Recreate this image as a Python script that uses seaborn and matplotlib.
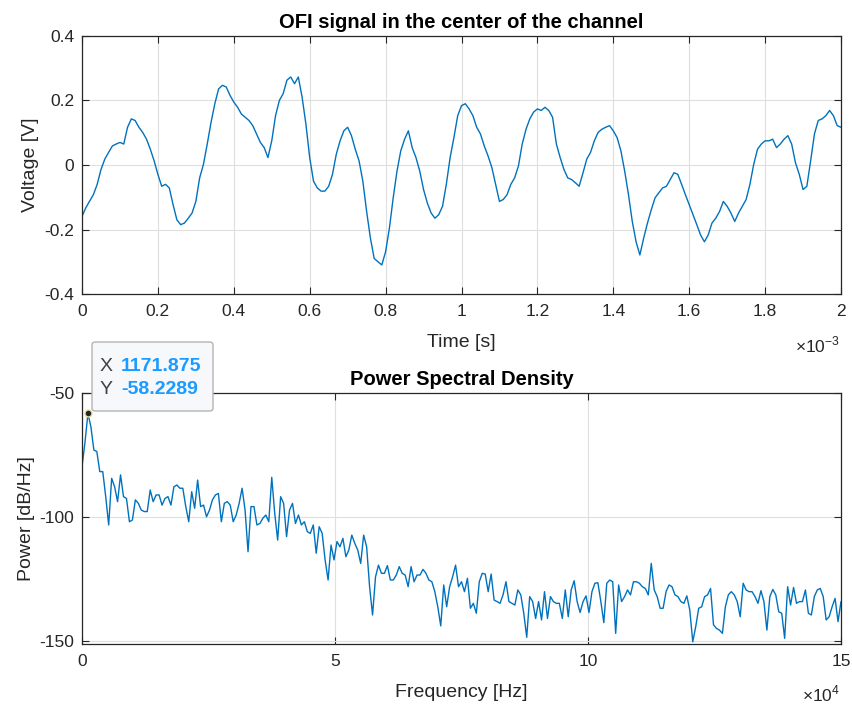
import numpy as np
import pandas as pd
import matplotlib
matplotlib.use("Agg")
import matplotlib.pyplot as plt
from matplotlib.ticker import FuncFormatter, FixedLocator
from matplotlib.patches import FancyBboxPatch
import seaborn as sns

# ---------------- data ----------------
# time signal: samples every 0.01 ms from 0 to 2 ms
time_ms = [i * 0.01 for i in range(201)]
voltage = [
    -0.159, -0.133, -0.112, -0.092, -0.060, -0.014, 0.018, 0.039, 0.059, 0.065,
    0.070, 0.065, 0.117, 0.143, 0.138, 0.117, 0.101, 0.080, 0.049, 0.013,
    -0.029, -0.066, -0.060, -0.071, -0.123, -0.170, -0.185, -0.180, -0.165, -0.149,
    -0.113, -0.040, 0.002, 0.065, 0.132, 0.190, 0.236, 0.247, 0.242, 0.216,
    0.195, 0.179, 0.158, 0.148, 0.138, 0.122, 0.096, 0.070, 0.054, 0.023,
    0.075, 0.153, 0.200, 0.221, 0.263, 0.273, 0.252, 0.273, 0.210, 0.127,
    0.023, -0.050, -0.071, -0.081, -0.081, -0.066, -0.029, 0.033, 0.075, 0.106,
    0.117, 0.091, 0.049, 0.013, -0.050, -0.144, -0.227, -0.290, -0.300, -0.310,
    -0.269, -0.196, -0.102, -0.019, 0.044, 0.080, 0.106, 0.054, 0.023, -0.019,
    -0.076, -0.118, -0.149, -0.165, -0.154, -0.128, -0.060, 0.023, 0.085, 0.153,
    0.184, 0.190, 0.174, 0.153, 0.117, 0.096, 0.059, 0.028, -0.008, -0.060,
    -0.113, -0.107, -0.092, -0.060, -0.040, -0.003, 0.065, 0.111, 0.143, 0.164,
    0.174, 0.169, 0.179, 0.169, 0.148, 0.065, 0.023, -0.014, -0.040, -0.045,
    -0.055, -0.066, -0.025, 0.018, 0.039, 0.075, 0.101, 0.111, 0.117, 0.122,
    0.106, 0.085, 0.044, -0.019, -0.092, -0.175, -0.238, -0.279, -0.227, -0.180,
    -0.139, -0.102, -0.086, -0.071, -0.066, -0.045, -0.024, -0.029, -0.060, -0.092,
    -0.123, -0.154, -0.185, -0.217, -0.238, -0.217, -0.180, -0.165, -0.144, -0.113,
    -0.128, -0.149, -0.175, -0.149, -0.128, -0.107, -0.060, 0.002, 0.049, 0.065,
    0.075, 0.075, 0.080, 0.054, 0.065, 0.080, 0.091, 0.065, 0.007, -0.029,
    -0.076, -0.066, 0.013, 0.096, 0.138, 0.143, 0.153, 0.169, 0.153, 0.122,
    0.117,
]

# power spectral density: 257 bins, spacing 585.9375 Hz (0 .. 150 kHz)
freq_step_hz = 585.9375
psd_db = [
    -79.7, -70.0, -58.2289, -63.6, -73.0, -73.6, -81.7, -81.7, -91.8, -103.2,
    -84.4, -87.8, -93.8, -83.0, -91.8, -92.5, -101.9, -101.2, -93.1, -94.5,
    -97.2, -97.8, -97.8, -89.1, -93.8, -91.1, -91.1, -95.2, -92.5, -91.8,
    -95.2, -87.8, -87.1, -88.4, -88.4, -95.8, -101.9, -89.8, -96.5, -85.1,
    -95.8, -95.2, -99.9, -97.2, -93.1, -91.1, -90.5, -101.9, -94.5, -93.8,
    -95.2, -101.9, -99.2, -94.5, -88.4, -97.2, -114.0, -95.8, -95.8, -103.2,
    -102.6, -100.5, -99.2, -101.9, -84.0, -98.5, -109.3, -91.8, -94.5, -107.9,
    -97.2, -94.5, -102.6, -99.2, -103.2, -101.9, -105.9, -106.6, -103.2, -114.6,
    -103.9, -106.6, -117.3, -125.4, -111.3, -117.3, -109.9, -112.0, -108.6, -116.0,
    -113.3, -107.3, -110.6, -113.3, -118.7, -107.3, -112.0, -128.1, -139.5, -124.1,
    -119.4, -122.7, -122.7, -119.6, -125.4, -125.4, -123.4, -120.0, -122.7, -123.4,
    -128.1, -120.0, -126.1, -123.4, -123.4, -121.1, -122.7, -125.4, -126.1, -130.1,
    -136.2, -143.9, -127.4, -136.2, -128.1, -124.1, -119.4, -128.1, -126.1, -130.1,
    -124.7, -136.8, -134.8, -138.8, -126.1, -122.7, -123.0, -130.1, -123.0, -133.5,
    -134.1, -134.8, -131.4, -126.1, -134.1, -134.8, -135.5, -129.4, -131.4, -138.8,
    -148.5, -132.1, -134.1, -140.9, -134.1, -141.5, -130.1, -140.9, -132.1, -134.1,
    -134.8, -134.8, -140.9, -129.4, -140.2, -129.4, -125.7, -134.1, -138.5, -134.1,
    -131.8, -138.5, -130.1, -126.7, -126.5, -134.1, -142.6, -126.7, -125.4, -126.1,
    -146.9, -127.4, -134.1, -132.1, -129.4, -131.4, -126.1, -126.1, -126.7, -128.1,
    -128.8, -131.4, -118.7, -129.4, -132.1, -136.8, -136.8, -130.1, -127.4, -128.1,
    -131.4, -132.1, -134.1, -134.8, -131.8, -137.5, -150.3, -144.2, -136.8, -136.2,
    -132.1, -131.4, -128.8, -143.5, -144.9, -145.6, -146.9, -136.2, -131.4, -130.1,
    -131.4, -134.1, -140.2, -126.7, -129.4, -130.1, -130.1, -132.1, -134.8, -129.7,
    -134.1, -145.6, -132.1, -129.2, -131.4, -138.2, -138.8, -148.9, -128.1, -135.5,
    -128.4, -134.8, -134.1, -134.1, -129.4, -138.8, -139.5, -132.1, -129.4, -128.8,
    -132.1, -141.5, -140.2, -136.2, -132.8, -142.2, -134.1,
]
freq_hz = [k * freq_step_hz for k in range(len(psd_db))]

time_ticks_ms = [0, 0.2, 0.4, 0.6, 0.8, 1, 1.2, 1.4, 1.6, 1.8, 2]
volt_ticks = [-0.4, -0.2, 0, 0.2, 0.4]
freq_ticks_e4 = [0, 5, 10, 15]
psd_ticks = [-150, -100, -50]
tip_index = 2  # data tip at the PSD peak

df_t = pd.DataFrame({"t": np.array(time_ms) * 1e-3, "v": voltage})
df_p = pd.DataFrame({"f": freq_hz, "p": psd_db})

# ---------------- style ----------------
sns.set_theme(style="white")
plt.rcParams["font.family"] = ["Liberation Sans", "DejaVu Sans"]
plt.rcParams["axes.unicode_minus"] = False
plt.rcParams["mathtext.fontset"] = "custom"
plt.rcParams["mathtext.rm"] = "Liberation Sans"

line_col = "#0072BD"
axc = "#262626"
gridc = "#dfdfdf"
TICK_FS = 12.5
LABEL_FS = 14
TITLE_FS = 14.5

fig = plt.figure(figsize=(8.52, 7.11), dpi=100)
fig.patch.set_facecolor("white")
ax1 = fig.add_axes([82 / 852, 1 - 294 / 711, 759 / 852, 258 / 711])
ax2 = fig.add_axes([82 / 852, 1 - 644 / 711, 759 / 852, 251 / 711])


def style_axes(ax):
    ax.set_facecolor("white")
    for s in ax.spines.values():
        s.set_color(axc)
        s.set_linewidth(0.9)
        s.set_visible(True)
    ax.tick_params(direction="in", length=5, width=0.8, colors=axc,
                   labelcolor=axc, labelsize=TICK_FS, top=True, right=True,
                   bottom=True, left=True, pad=7)
    ax.tick_params(axis="y", pad=5.5)
    ax.grid(True, color=gridc, linewidth=0.8)
    ax.set_axisbelow(True)


# top: time signal
sns.lineplot(data=df_t, x="t", y="v", ax=ax1, color=line_col, linewidth=1.0,
             estimator=None, sort=False)
ax1.set_xlim(0, 2e-3)
ax1.set_ylim(-0.4, 0.4)
ax1.xaxis.set_major_locator(FixedLocator([v * 1e-3 for v in time_ticks_ms]))
ax1.xaxis.set_major_formatter(FuncFormatter(lambda x, p: f"{x * 1e3:g}"))
ax1.yaxis.set_major_locator(FixedLocator(volt_ticks))
ax1.yaxis.set_major_formatter(FuncFormatter(lambda y, p: f"{y:g}"))
style_axes(ax1)
ax1.set_title("OFI signal in the center of the channel", fontsize=TITLE_FS,
              fontweight="bold", color="black", pad=6)
ax1.set_xlabel("Time [s]", fontsize=LABEL_FS, color=axc, labelpad=11)
ax1.set_ylabel("Voltage [V]", fontsize=LABEL_FS, color=axc, labelpad=4)
fig.text(840 / 852, 1 - 345 / 711, r"$\times10^{-3}$", ha="right", va="center",
         fontsize=TICK_FS, color=axc)

# bottom: PSD
sns.lineplot(data=df_p, x="f", y="p", ax=ax2, color=line_col, linewidth=1.0,
             estimator=None, sort=False)
ax2.set_xlim(0, 15e4)
ax2.set_ylim(-151.2, -50)
ax2.xaxis.set_major_locator(FixedLocator([v * 1e4 for v in freq_ticks_e4]))
ax2.xaxis.set_major_formatter(FuncFormatter(lambda x, p: f"{x / 1e4:g}"))
ax2.yaxis.set_major_locator(FixedLocator(psd_ticks))
ax2.yaxis.set_major_formatter(FuncFormatter(lambda y, p: f"{y:g}"))
style_axes(ax2)
ax2.set_title("Power Spectral Density", fontsize=TITLE_FS, fontweight="bold",
              color="black", pad=6)
ax2.set_xlabel("Frequency [Hz]", fontsize=LABEL_FS, color=axc, labelpad=11)
ax2.set_ylabel("Power [dB/Hz]", fontsize=LABEL_FS, color=axc, labelpad=3)
fig.text(840 / 852, 1 - 694 / 711, r"$\times10^{4}$", ha="right", va="center",
         fontsize=TICK_FS, color=axc)

# data tip
ax2.plot([freq_hz[tip_index]], [psd_db[tip_index]], marker="o", markersize=5,
         markerfacecolor="#262626", markeredgecolor="#e8e0a0",
         markeredgewidth=1.0, clip_on=False, zorder=6)
box = FancyBboxPatch((92 / 852, 1 - 411 / 711), 121 / 852, 69 / 711,
                     boxstyle="round,pad=0,rounding_size=0.004",
                     transform=fig.transFigure, facecolor="#f7f8fc",
                     edgecolor="#b4b4b4", linewidth=1.0, zorder=10)
fig.patches.append(box)
fig.text(100 / 852, 1 - 366 / 711, "X", ha="left", va="center", fontsize=14,
         color="#404040", zorder=11)
fig.text(121 / 852, 1 - 366 / 711, f"{freq_hz[tip_index]:.3f}",
         ha="left", va="center", fontsize=14, fontweight="bold",
         color="#1a9bff", zorder=11)
fig.text(100 / 852, 1 - 390 / 711, "Y", ha="left", va="center", fontsize=14,
         color="#404040", zorder=11)
fig.text(121 / 852, 1 - 390 / 711, f"{psd_db[tip_index]:.4f}",
         ha="left", va="center", fontsize=14, fontweight="bold",
         color="#1a9bff", zorder=11)

fig.savefig("out.png", dpi=100, facecolor="white")
